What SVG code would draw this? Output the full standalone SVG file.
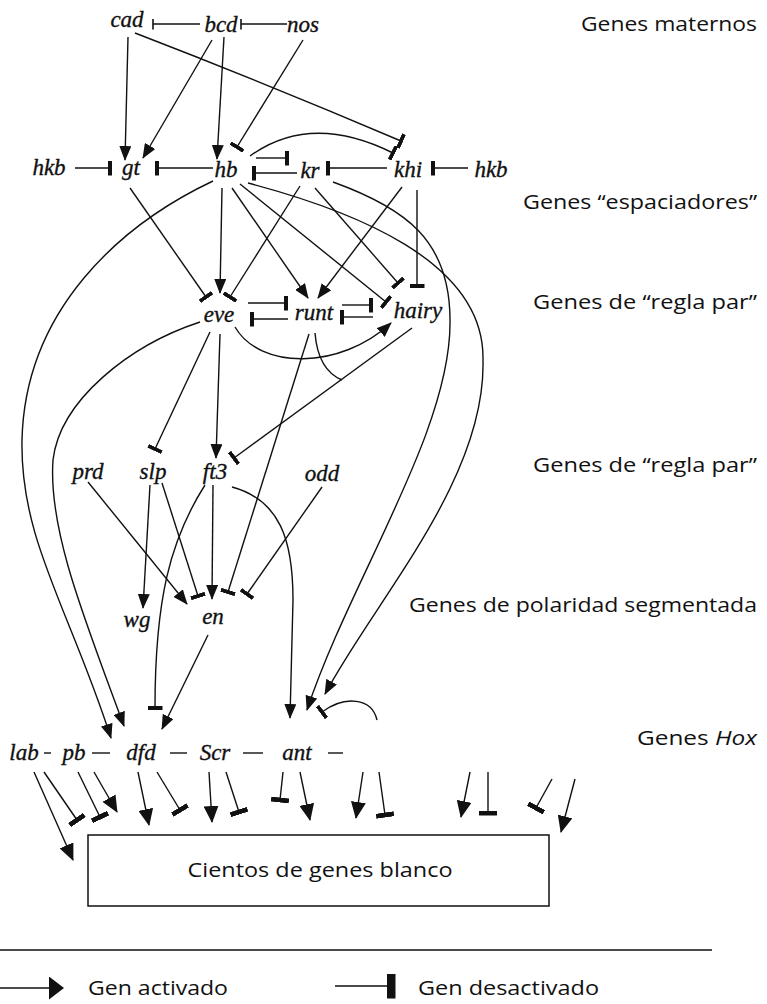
<svg xmlns="http://www.w3.org/2000/svg" width="767" height="1004" viewBox="0 0 767 1004">
<style>
.g{font-family:"Liberation Serif","DejaVu Serif",serif;font-style:italic;font-size:23px;fill:#111;stroke:#111;stroke-width:0.35;text-anchor:middle}
.lv{font-family:"Open Sans","DejaVu Sans",sans-serif;font-size:20px;fill:#111;text-anchor:end}
.lg{font-family:"Open Sans","DejaVu Sans",sans-serif;font-size:20px;fill:#111}
.c path,.c line{fill:none;stroke:#111;stroke-width:1.4}
</style>
<defs>
<marker id="a" viewBox="0 0 15 12" refX="14" refY="6" markerWidth="15" markerHeight="12" markerUnits="userSpaceOnUse" orient="auto"><path d="M0,0 L15,6 L0,12 Z" fill="#111"/></marker>
<marker id="b" viewBox="0 0 4 15" refX="2" refY="7.5" markerWidth="4" markerHeight="15" markerUnits="userSpaceOnUse" orient="auto"><rect width="4" height="15" fill="#111"/></marker>
<marker id="t" viewBox="0 0 1.6 11" refX="0.8" refY="5.5" markerWidth="1.6" markerHeight="11" markerUnits="userSpaceOnUse" orient="auto"><rect width="1.6" height="11" fill="#111"/></marker>
<marker id="A" viewBox="0 0 17 15" refX="16" refY="7.5" markerWidth="17" markerHeight="15" markerUnits="userSpaceOnUse" orient="auto"><path d="M0,0 L17,7.5 L0,15 Z" fill="#111"/></marker>
<marker id="B" viewBox="0 0 5 18" refX="2.5" refY="9" markerWidth="5" markerHeight="18" markerUnits="userSpaceOnUse" orient="auto"><rect width="5" height="18" fill="#111"/></marker>
<marker id="LA" viewBox="0 0 15 23" refX="14" refY="11.5" markerWidth="15" markerHeight="23" markerUnits="userSpaceOnUse" orient="auto"><path d="M0,0 L15,11.5 L0,23 Z" fill="#111"/></marker>
<marker id="LB" viewBox="0 0 9 25" refX="4.5" refY="12.5" markerWidth="9" markerHeight="25" markerUnits="userSpaceOnUse" orient="auto"><rect width="9" height="25" fill="#111"/></marker>
</defs>
<rect width="767" height="1004" fill="#fff"/>

<g id="connectors" class="c">
<!-- maternal -->
<path d="M200,24 L153,24" marker-end="url(#t)"/>
<path d="M287,24 L241,24" marker-end="url(#t)"/>
<path d="M128,37 L125,160" marker-end="url(#a)"/>
<path d="M212,40 L143,158" marker-end="url(#a)"/>
<path d="M224,37 L217,159" marker-end="url(#a)"/>
<path d="M303,40 L237,147" marker-end="url(#b)"/>
<path d="M135,33 Q270,85 401,141" marker-end="url(#b)"/>
<!-- gap row -->
<path d="M250,156 Q311,112 393,153" marker-end="url(#b)"/>
<path d="M75,168 L110,168" marker-end="url(#b)"/>
<path d="M213,168 L157,168" marker-end="url(#b)"/>
<path d="M256,158 L287,158" marker-end="url(#b)"/>
<path d="M297,173 L254,173" marker-end="url(#b)"/>
<path d="M387,168 L328,168" marker-end="url(#b)"/>
<path d="M468,168 L433,168" marker-end="url(#b)"/>
<!-- gap to pair rule -->
<path d="M130,188 L206,297" marker-end="url(#b)"/>
<path d="M222,188 L220,293" marker-end="url(#a)"/>
<path d="M300,186 L230,297" marker-end="url(#b)"/>
<path d="M232,188 L308,298" marker-end="url(#a)"/>
<path d="M402,187 L318,298" marker-end="url(#a)"/>
<path d="M240,184 L386,302" marker-end="url(#b)"/>
<path d="M315,188 L398,283" marker-end="url(#b)"/>
<path d="M417,190 L417,286" marker-end="url(#b)"/>
<!-- pair rule row -->
<path d="M248,303 L286,303" marker-end="url(#b)"/>
<path d="M288,319 L252,319" marker-end="url(#b)"/>
<path d="M342,305 L371,305" marker-end="url(#b)"/>
<path d="M373,317 L342,317" marker-end="url(#b)"/>
<path d="M235,327 C260,370 340,370 391,323" marker-end="url(#a)"/>
<!-- to second pair-rule row -->
<path d="M210,332 L155,449" marker-end="url(#b)"/>
<path d="M220,334 L216,458" marker-end="url(#a)"/>
<path d="M412,328 L234,458" marker-end="url(#b)"/>
<path d="M315,333 Q318,370 342,380"/>
<path d="M309,334 L228,592" marker-end="url(#b)"/>
<!-- long left curves -->
<path d="M213,181 C120,225 25,310 22,440 C20,540 70,610 111,738" marker-end="url(#a)"/>
<path d="M200,322 C130,345 60,400 53,460 C48,530 85,620 124,726" marker-end="url(#a)"/>
<!-- long right curves -->
<path d="M333,182 C405,208 450,240 450,320 C452,430 350,580 307,710" marker-end="url(#a)"/>
<path d="M248,183 C350,210 485,260 483,360 C486,480 375,600 325,694" marker-end="url(#a)"/>
<!-- to segment polarity -->
<path d="M150,485 L143,608" marker-end="url(#a)"/>
<path d="M162,483 L198,596" marker-end="url(#b)"/>
<path d="M88,482 L187,604" marker-end="url(#a)"/>
<path d="M213,485 L212,599" marker-end="url(#a)"/>
<path d="M322,487 L247,594" marker-end="url(#b)"/>
<path d="M205,485 C170,540 155,600 155,708" marker-end="url(#b)"/>
<path d="M232,487 C280,500 293,540 293,600 L290,718" marker-end="url(#a)"/>
<path d="M208,635 L162,729" marker-end="url(#a)"/>
<path d="M377,720 C372,698 345,695 322,712" marker-end="url(#b)"/>
<!-- hox dashes -->
<line x1="44" y1="753" x2="51" y2="753"/>
<line x1="92" y1="753" x2="110" y2="753"/>
<line x1="170" y1="753" x2="187" y2="753"/>
<line x1="243" y1="753" x2="263" y2="753"/>
<line x1="328" y1="753" x2="343" y2="753"/>
<!-- hox to targets -->
<path d="M34,772 L73,860" marker-end="url(#A)"/>
<path d="M44,772 L77,820" marker-end="url(#B)"/>
<path d="M78,772 L100,817" marker-end="url(#B)"/>
<path d="M94,772 L117,812" marker-end="url(#A)"/>
<path d="M138,772 L149,825" marker-end="url(#A)"/>
<path d="M157,772 L180,810" marker-end="url(#B)"/>
<path d="M209,772 L212,822" marker-end="url(#A)"/>
<path d="M226,772 L239,812" marker-end="url(#B)"/>
<path d="M283,772 L280,800" marker-end="url(#B)"/>
<path d="M300,772 L310,820" marker-end="url(#A)"/>
<path d="M363,772 L356,818" marker-end="url(#A)"/>
<path d="M379,772 L385,815" marker-end="url(#B)"/>
<path d="M470,772 L461,817" marker-end="url(#A)"/>
<path d="M488,772 L488,813" marker-end="url(#B)"/>
<path d="M552,779 L536,808" marker-end="url(#B)"/>
<path d="M575,779 L561,832" marker-end="url(#A)"/>
</g>

<g id="n-cad"><text class="g" x="127" y="27">cad</text></g>
<g id="n-bcd"><text class="g" x="221" y="32">bcd</text></g>
<g id="n-nos"><text class="g" x="303" y="32">nos</text></g>
<g id="n-hkb-left"><text class="g" x="49" y="175">hkb</text></g>
<g id="n-gt"><text class="g" x="131" y="175">gt</text></g>
<g id="n-hb"><text class="g" x="226" y="177">hb</text></g>
<g id="n-kr"><text class="g" x="310" y="178">kr</text></g>
<g id="n-khi"><text class="g" x="408" y="177">khi</text></g>
<g id="n-hkb-right"><text class="g" x="491" y="177">hkb</text></g>
<g id="n-eve"><text class="g" x="219" y="322">eve</text></g>
<g id="n-runt"><text class="g" x="314" y="320">runt</text></g>
<g id="n-hairy"><text class="g" x="418" y="318">hairy</text></g>
<g id="n-prd"><text class="g" x="88" y="479">prd</text></g>
<g id="n-slp"><text class="g" x="153" y="479">slp</text></g>
<g id="n-ft3"><text class="g" x="215" y="479">ft3</text></g>
<g id="n-odd"><text class="g" x="322" y="481">odd</text></g>
<g id="n-wg"><text class="g" x="137" y="627">wg</text></g>
<g id="n-en"><text class="g" x="213" y="624">en</text></g>
<g id="n-lab"><text class="g" x="24" y="760">lab</text></g>
<g id="n-pb"><text class="g" x="74" y="760">pb</text></g>
<g id="n-dfd"><text class="g" x="141" y="760">dfd</text></g>
<g id="n-Scr"><text class="g" x="215" y="760">Scr</text></g>
<g id="n-ant"><text class="g" x="297" y="760">ant</text></g>
<g id="n-targets">
<rect x="88" y="835" width="461" height="71" fill="none" stroke="#111" stroke-width="1.5"/>
<text class="lg" x="320" y="877" text-anchor="middle" textLength="265" lengthAdjust="spacingAndGlyphs">Cientos de genes blanco</text>
</g>

<g id="level-labels">
<text class="lv" x="757" y="31" textLength="176" lengthAdjust="spacingAndGlyphs">Genes maternos</text>
<text class="lv" x="757" y="209" textLength="234" lengthAdjust="spacingAndGlyphs">Genes “espaciadores”</text>
<text class="lv" x="757" y="309" textLength="224" lengthAdjust="spacingAndGlyphs">Genes de “regla par”</text>
<text class="lv" x="757" y="472" textLength="224" lengthAdjust="spacingAndGlyphs">Genes de “regla par”</text>
<text class="lv" x="757" y="612" textLength="348" lengthAdjust="spacingAndGlyphs">Genes de polaridad segmentada</text>
<text class="lv" x="757" y="745" textLength="120" lengthAdjust="spacingAndGlyphs">Genes <tspan font-style="italic">Hox</tspan></text>
</g>

<g id="legend">
<line x1="0" y1="950" x2="712" y2="950" stroke="#111" stroke-width="1.5"/>
<path d="M0,988 L63,988" fill="none" stroke="#111" stroke-width="1.5" marker-end="url(#LA)"/>
<text class="lg" x="88" y="995" textLength="140" lengthAdjust="spacingAndGlyphs">Gen activado</text>
<path d="M335,986 L391,986" fill="none" stroke="#111" stroke-width="1.5" marker-end="url(#LB)"/>
<text class="lg" x="418" y="995" textLength="181" lengthAdjust="spacingAndGlyphs">Gen desactivado</text>
</g>
</svg>
